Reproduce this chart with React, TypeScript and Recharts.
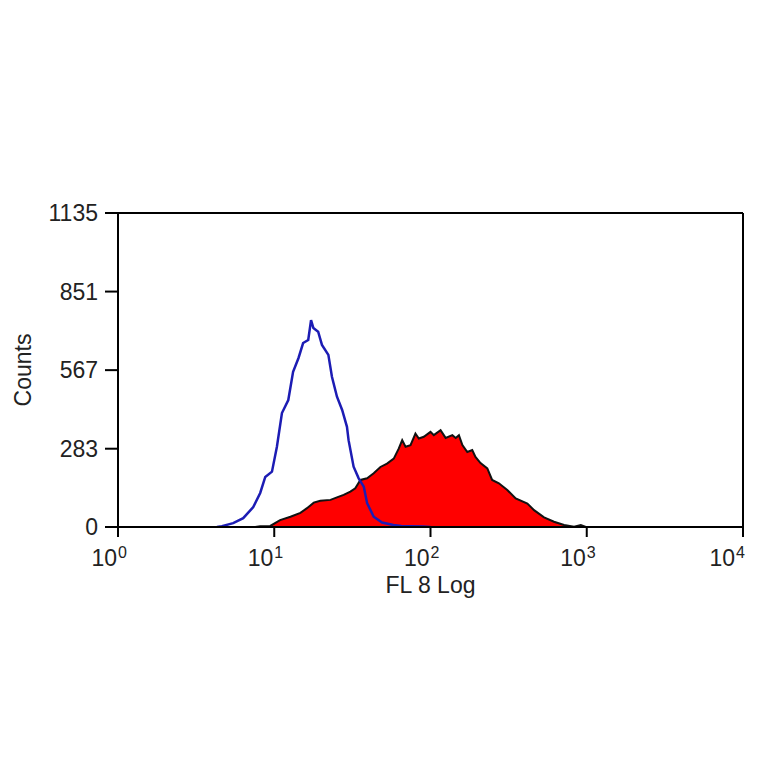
import React from "react";
import { ComposedChart, Area, Line, XAxis, YAxis, ReferenceLine } from "recharts";

// Fluorescence intensity (FL 8, linear units) and counts
const blueX = [4.3, 4.62, 5.46, 6.33, 7.34, 8.13, 8.76, 9.67, 10.4, 11.2, 12.3, 13.2, 14.3, 15.3, 16.5, 17.2, 17.8, 19.1, 20.2, 22.2, 23.4, 25.2, 27.2, 29.2, 29.9, 32.2, 34.7, 37.4, 39.3, 43.3, 49.0, 57.9, 65, 75, 90, 100];
const blueCounts = [0, 3, 14, 32, 72, 123, 181, 200, 290, 412, 459, 561, 611, 665, 676, 748, 719, 706, 658, 622, 543, 471, 423, 362, 314, 218, 176, 146, 86, 37, 16, 7, 4, 3, 2, 0];

const redX = [7.55, 8.13, 9.43, 10.9, 12.7, 14.7, 16.2, 17.9, 19.7, 22.9, 25.2, 27.8, 30.7, 33.0, 35.6, 39.3, 43.3, 47.8, 52.7, 58.2, 62.6, 65.9, 69.2, 74.5, 80.1, 84.2, 90.6, 100, 105, 116, 125, 138, 145, 152, 160, 172, 185, 194, 209, 231, 248, 274, 310, 351, 417, 460, 533, 617, 716, 830, 916, 986];
const redCounts = [0, 3, 4, 25, 37, 51, 68, 88, 95, 98, 107, 116, 128, 140, 170, 176, 194, 217, 229, 247, 283, 314, 290, 296, 338, 320, 326, 344, 332, 350, 322, 332, 322, 332, 296, 271, 278, 253, 231, 212, 170, 158, 134, 103, 85, 61, 35, 19, 7, 1, 7, 0];

const xTicks = [1, 10, 100, 1000, 10000];
const yTicks = [0, 283, 567, 851, 1135];

const blueData = blueX.map((x, i) => ({ x, count: blueCounts[i] }));
const redData = redX.map((x, i) => ({ x, count: redCounts[i] }));

const FONT = "'Liberation Sans', Arial, sans-serif";
const TEXT = "#222";
const FS = 23;

const XTick = (props: any) => {
  const { x, y, payload } = props;
  const exp = Math.round(Math.log10(payload.value));
  return (
    <g>
      <text x={x - 1} y={y} dy={27} textAnchor="end" fontSize={FS} fontFamily={FONT} fill={TEXT}>
        10
      </text>
      <text x={x} y={y} dy={19} textAnchor="start" fontSize={16} fontFamily={FONT} fill={TEXT}>
        {exp}
      </text>
    </g>
  );
};

export default function App() {
  return (
    <ComposedChart
      width={748}
      height={748}
      margin={{ top: 205, right: 13, bottom: 163, left: 0 }}
    >
      <XAxis
        dataKey="x"
        type="number"
        scale="log"
        domain={[1, 10000]}
        ticks={xTicks}
        allowDataOverflow
        height={66}
        tickSize={10}
        tickMargin={2}
        tick={<XTick />}
        axisLine={{ stroke: "#000", strokeWidth: 2 }}
        tickLine={{ stroke: "#000", strokeWidth: 2 }}
        label={{ value: "FL 8 Log", position: "insideBottom", offset: 0, fontSize: FS, fontFamily: FONT, fill: TEXT }}
      />
      <YAxis
        type="number"
        domain={[0, 1135]}
        ticks={yTicks}
        allowDataOverflow
        width={110}
        tickSize={13}
        tickMargin={7}
        tick={{ fontSize: FS, fontFamily: FONT, fill: TEXT }}
        axisLine={{ stroke: "#000", strokeWidth: 2 }}
        tickLine={{ stroke: "#000", strokeWidth: 2 }}
        label={{ value: "Counts", angle: -90, position: "insideLeft", offset: 15, textAnchor: "middle", fontSize: FS, fontFamily: FONT, fill: TEXT }}
      />
      <ReferenceLine y={1135} stroke="#000" strokeWidth={2} ifOverflow="extendDomain" />
      <ReferenceLine x={10000} stroke="#000" strokeWidth={2} ifOverflow="extendDomain" />
      <Area
        data={redData}
        dataKey="count"
        type="linear"
        fill="#ff0000"
        fillOpacity={1}
        stroke="#111"
        strokeWidth={2}
        isAnimationActive={false}
        dot={false}
        activeDot={false}
      />
      <Line
        data={blueData}
        dataKey="count"
        type="linear"
        stroke="#1c1cb4"
        strokeWidth={2.5}
        dot={false}
        activeDot={false}
        isAnimationActive={false}
      />
    </ComposedChart>
  );
}
